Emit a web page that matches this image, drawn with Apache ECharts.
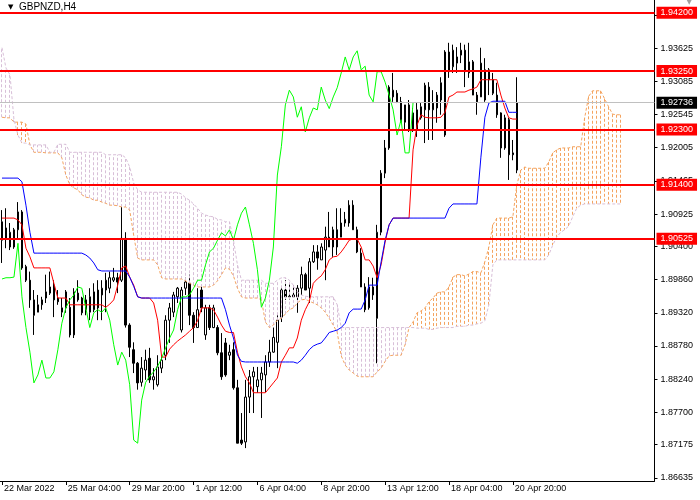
<!DOCTYPE html>
<html><head><meta charset="utf-8">
<script src="https://cdn.jsdelivr.net/npm/echarts@6/dist/echarts.min.js"></script>
<style>html,body{margin:0;padding:0;background:#fff}#c{width:700px;height:500px}</style>
</head><body><div id="c"></div>
<script>
const symbolName = 'GBPNZD,H4';
const tickLabels = ['22 Mar 2022','25 Mar 04:00','29 Mar 20:00','1 Apr 12:00','6 Apr 04:00','8 Apr 20:00','13 Apr 12:00','18 Apr 04:00','20 Apr 20:00'];
const tickStep = 16;
const slotCount = 164;

const open = [
1.9050,1.9070,1.9039,1.9039,1.9067,1.9096,1.9007,1.8985,1.8953,1.8933,
1.8945,1.8956,1.8964,1.8977,1.8956,1.8933,1.8940,1.8941,1.8896,1.8964,
1.8956,1.8937,1.8933,1.8937,1.8969,1.8961,1.8969,1.8972,1.8985,1.8989,
1.8985,1.9053,1.8912,1.8872,1.8850,1.8819,1.8839,1.8858,1.8823,1.8815,
1.8842,1.8863,1.8920,1.8933,1.8958,1.8904,1.8972,1.8980,1.8928,1.8908,
1.8969,1.8896,1.8940,1.8908,1.8908,1.8867,1.8883,1.8863,1.8872,1.8810,
1.8725,1.8722,1.8795,1.8828,1.8812,1.8823,1.8831,1.8852,1.8868,1.8884,
1.8925,1.8969,1.8958,1.8958,1.8958,1.8972,1.8994,1.8972,1.9015,1.9031,
1.9018,1.9034,1.9055,1.9039,1.9067,1.9055,1.9078,1.9078,1.9107,1.9067,
1.9029,1.8974,1.8940,1.8961,1.8923,1.9063,1.9159,1.9200,1.9283,1.9289,
1.9275,1.9270,1.9270,1.9229,1.9229,1.9249,1.9262,1.9299,1.9262,1.9265,
1.9278,1.9221,1.9324,1.9332,1.9338,1.9351,1.9359,1.9322,1.9340,1.9286,
1.9283,1.9327,1.9311,1.9311,1.9286,1.9257,1.9200,1.9246,1.9192,1.9164];
const close = [
1.9080,1.9053,1.9063,1.9067,1.9096,1.9005,1.8985,1.8953,1.8928,1.8945,
1.8953,1.8966,1.8974,1.8953,1.8950,1.8940,1.8966,1.8896,1.8966,1.8953,
1.8932,1.8953,1.8958,1.8966,1.8940,1.8972,1.8985,1.8989,1.8989,1.8982,
1.9053,1.8912,1.8876,1.8850,1.8818,1.8842,1.8855,1.8823,1.8828,1.8844,
1.8855,1.8920,1.8940,1.8961,1.8972,1.8969,1.8982,1.8928,1.8908,1.8937,
1.8940,1.8940,1.8908,1.8940,1.8867,1.8828,1.8831,1.8868,1.8810,1.8720,
1.8720,1.8795,1.8828,1.8836,1.8823,1.8834,1.8852,1.8868,1.8892,1.8920,
1.8969,1.8958,1.8959,1.8961,1.8972,1.8994,1.8969,1.9015,1.9031,1.9021,
1.9039,1.9055,1.9039,1.9067,1.9039,1.9078,1.9084,1.9107,1.9067,1.9031,
1.8974,1.8937,1.8974,1.8974,1.9063,1.9159,1.9200,1.9299,1.9294,1.9275,
1.9242,1.9242,1.9229,1.9257,1.9262,1.9267,1.9302,1.9262,1.9273,1.9286,
1.9306,1.9356,1.9356,1.9359,1.9348,1.9359,1.9324,1.9340,1.9286,1.9275,
1.9338,1.9278,1.9327,1.9289,1.9254,1.9200,1.9249,1.9189,1.9189,1.92736];
const low = [
1.9013,1.9037,1.9034,1.9036,1.9053,1.9002,1.8982,1.8940,1.8896,1.8933,
1.8937,1.8948,1.8961,1.8925,1.8945,1.8925,1.8932,1.8892,1.8891,1.8950,
1.8928,1.8928,1.8920,1.8933,1.8920,1.8920,1.8933,1.8964,1.8982,1.8964,
1.8982,1.8908,1.8860,1.8834,1.8807,1.8812,1.8823,1.8818,1.8807,1.8812,
1.8834,1.8855,1.8883,1.8925,1.8948,1.8900,1.8961,1.8912,1.8883,1.8908,
1.8933,1.8888,1.8904,1.8907,1.8863,1.8823,1.8828,1.8855,1.8807,1.8720,
1.8717,1.8712,1.8769,1.8769,1.8802,1.8761,1.8803,1.8844,1.8867,1.8842,
1.8917,1.8953,1.8953,1.8958,1.8932,1.8961,1.8969,1.8948,1.9013,1.9002,
1.9018,1.8985,1.9039,1.9023,1.9026,1.9055,1.9072,1.9072,1.9067,1.9029,
1.8974,1.8933,1.8937,1.8953,1.8850,1.9058,1.9151,1.9197,1.9275,1.9273,
1.9241,1.9229,1.9226,1.9226,1.9218,1.9246,1.9208,1.9213,1.9213,1.9241,
1.9254,1.9218,1.9314,1.9322,1.9322,1.9338,1.9299,1.9314,1.9286,1.9254,
1.9283,1.9275,1.9286,1.9286,1.9249,1.9184,1.9197,1.9148,1.9180,1.9159];
const high = [
1.9099,1.9102,1.9078,1.9070,1.9112,1.9099,1.9010,1.8999,1.8969,1.8961,
1.8958,1.8994,1.8999,1.8985,1.8969,1.8956,1.8969,1.8956,1.8972,1.8985,
1.8958,1.8961,1.8972,1.8980,1.8985,1.8985,1.8997,1.8999,1.9005,1.8997,
1.9107,1.9063,1.8915,1.8884,1.8852,1.8860,1.8872,1.8875,1.8842,1.8863,
1.8863,1.8928,1.8948,1.8966,1.8974,1.8974,1.8989,1.8994,1.8933,1.8972,
1.8977,1.8945,1.8945,1.8945,1.8912,1.8899,1.8891,1.8880,1.8884,1.8823,
1.8769,1.8823,1.8839,1.8844,1.8844,1.8844,1.8863,1.8888,1.8908,1.8928,
1.8972,1.8985,1.8980,1.8977,1.8977,1.9007,1.8997,1.9021,1.9042,1.9042,
1.9045,1.9072,1.9096,1.9072,1.9102,1.9102,1.9096,1.9115,1.9115,1.9072,
1.9037,1.8980,1.8990,1.8989,1.9075,1.9164,1.9213,1.9302,1.9322,1.9294,
1.9283,1.9270,1.9278,1.9265,1.9273,1.9273,1.9306,1.9307,1.9294,1.9291,
1.9315,1.9359,1.9371,1.9368,1.9364,1.9371,1.9368,1.9371,1.9343,1.9291,
1.9363,1.9346,1.9330,1.9322,1.9306,1.9258,1.9254,1.9249,1.9213,1.9315];

const tenkan = [
1.9086,1.9086,1.9086,1.9086,1.9083,1.9075,1.9037,1.9023,1.9005,1.9005,
1.9005,1.9005,1.9005,1.8980,1.8956,1.8956,1.8956,1.8945,1.8945,1.8945,
1.8945,1.8945,1.8945,1.8945,1.8945,1.8945,1.8941,1.8946,1.8953,1.8977,
1.9005,1.9008,1.8990,1.8977,1.8958,1.8956,1.8956,1.8956,1.8948,1.8920,
1.8860,1.8860,1.8873,1.8880,1.8886,1.8891,1.8896,1.8902,1.8908,1.8919,
1.8940,1.8940,1.8940,1.8937,1.8925,1.8912,1.8902,1.8900,1.8900,1.8868,
1.8844,1.8828,1.8818,1.8802,1.8802,1.8802,1.8802,1.8810,1.8818,1.8826,
1.8852,1.8863,1.8875,1.8875,1.8891,1.8920,1.8937,1.8950,1.8980,1.8987,
1.8992,1.9002,1.9018,1.9023,1.9024,1.9031,1.9040,1.9050,1.9052,1.9052,
1.9039,1.9018,1.9018,1.9008,1.8989,1.9010,1.9047,1.9075,1.9086,1.9086,
1.9086,1.9086,1.9086,1.9197,1.9237,1.9254,1.9250,1.9249,1.9249,1.9249,
1.9250,1.9258,1.9283,1.9286,1.9291,1.9291,1.9291,1.9294,1.9296,1.9299,
1.9311,1.9311,1.9311,1.9311,1.9311,1.9286,1.9265,1.9249,1.9247,1.9247];
const kijun = [
1.9151,1.9151,1.9151,1.9151,1.9151,1.9145,1.9107,1.9063,1.9029,1.9029,
1.9029,1.9029,1.9029,1.9029,1.9029,1.9029,1.9029,1.9029,1.9029,1.9029,
1.9029,1.9026,1.9021,1.9013,1.9002,1.9000,1.9000,1.9000,1.9000,1.9000,
1.9000,1.9000,1.8990,1.8975,1.8958,1.8956,1.8956,1.8956,1.8956,1.8956,
1.8956,1.8956,1.8956,1.8956,1.8956,1.8956,1.8956,1.8956,1.8956,1.8956,
1.8956,1.8956,1.8956,1.8956,1.8956,1.8956,1.8937,1.8912,1.8891,1.8863,
1.8853,1.8852,1.8852,1.8852,1.8852,1.8852,1.8852,1.8852,1.8852,1.8852,
1.8852,1.8852,1.8852,1.8852,1.8850,1.8855,1.8863,1.8872,1.8878,1.8881,
1.8883,1.8891,1.8900,1.8902,1.8904,1.8908,1.8915,1.8932,1.8938,1.8938,
1.8938,1.8953,1.8977,1.8977,1.8977,1.9015,1.9050,1.9075,1.9086,1.9086,
1.9086,1.9086,1.9086,1.9086,1.9086,1.9086,1.9086,1.9086,1.9086,1.9086,
1.9086,1.9086,1.9102,1.9109,1.9109,1.9109,1.9109,1.9109,1.9109,1.9109,
1.9185,1.9250,1.9273,1.9276,1.9276,1.9276,1.9276,1.9258,1.9258,1.9258];
const chikou = [
1.8987,1.8989,1.8989,1.8990,1.9045,1.8958,1.8908,1.8868,1.8818,1.8831,
1.8855,1.8826,1.8826,1.8836,1.8872,1.8915,1.8940,1.8953,1.8961,1.8974,
1.8972,1.8940,1.8908,1.8932,1.8937,1.8933,1.8940,1.8920,1.8880,1.8847,
1.8868,1.8855,1.8815,1.8725,1.8720,1.8790,1.8819,1.8829,1.8836,1.8845,
1.8858,1.8875,1.8891,1.8904,1.8937,1.8958,1.8958,1.8961,1.8972,1.8985,
1.8985,1.9010,1.9031,1.9037,1.9050,1.9062,1.9057,1.9067,1.9050,1.9075,
1.9094,1.9104,1.9075,1.9045,1.9002,1.8941,1.8956,1.8985,1.9039,1.9156,
1.9202,1.9270,1.9294,1.9283,1.9250,1.9267,1.9226,1.9249,1.9265,1.9262,
1.9299,1.9278,1.9264,1.9283,1.9298,1.9322,1.9348,1.9327,1.9348,1.9358,
1.9327,1.9333,1.9286,1.9275,1.9324,1.9324,1.9307,1.9286,1.9262,1.9221,
1.9246,1.9192,1.9192,1.92736];
const spanA = [
1.9250,1.9249,1.9249,1.9242,1.9242,1.9242,1.9239,1.9205,1.9193,1.9193,
1.9193,1.9192,1.9192,1.9192,1.9192,1.9184,1.9156,1.9140,1.9135,1.9132,
1.9124,1.9120,1.9119,1.9115,1.9115,1.9112,1.9110,1.9107,1.9107,1.9106,
1.9104,1.9104,1.9099,1.9058,1.9021,1.9018,1.9018,1.9018,1.9018,1.9010,
1.8989,1.8987,1.8987,1.8987,1.8987,1.8987,1.8984,1.8980,1.8977,1.8974,
1.8974,1.8974,1.8974,1.8977,1.8984,1.8994,1.9005,1.9003,1.8992,1.8972,
1.8958,1.8956,1.8956,1.8956,1.8956,1.8953,1.8917,1.8908,1.8912,1.8920,
1.8923,1.8930,1.8937,1.8940,1.8948,1.8953,1.8954,1.8951,1.8948,1.8945,
1.8940,1.8933,1.8923,1.8912,1.8900,1.8862,1.8847,1.8839,1.8834,1.8829,
1.8828,1.8828,1.8828,1.8828,1.8836,1.8842,1.8853,1.8862,1.8863,1.8863,
1.8863,1.8880,1.8908,1.8917,1.8932,1.8935,1.8940,1.8950,1.8956,1.8964,
1.8966,1.8966,1.8974,1.8990,1.8994,1.8994,1.8992,1.8995,1.8999,1.8999,
1.8997,1.9015,1.9039,1.9075,1.9086,1.9086,1.9086,1.9086,1.9088,1.9140,
1.9164,1.9169,1.9167,1.9167,1.9167,1.9167,1.9167,1.9177,1.9192,1.9197,
1.9200,1.9200,1.9200,1.9202,1.9202,1.9202,1.9249,1.9284,1.9293,1.9293,
1.9293,1.9280,1.9267,1.9255,1.9254,1.9254];
const spanB = [
1.9363,1.9330,1.9319,1.9246,1.9221,1.9208,1.9208,1.9205,1.9205,1.9205,
1.9205,1.9205,1.9193,1.9193,1.9206,1.9206,1.9206,1.9193,1.9193,1.9193,
1.9193,1.9193,1.9193,1.9193,1.9193,1.9193,1.9189,1.9189,1.9189,1.9189,
1.9189,1.9184,1.9169,1.9143,1.9132,1.9128,1.9128,1.9128,1.9128,1.9128,
1.9128,1.9128,1.9128,1.9128,1.9128,1.9125,1.9119,1.9115,1.9109,1.9102,
1.9094,1.9091,1.9089,1.9088,1.9084,1.9083,1.9080,1.9080,1.9050,1.9010,
1.8985,1.8985,1.8985,1.8985,1.8985,1.8985,1.8980,1.8980,1.8980,1.8985,
1.8989,1.8989,1.8985,1.8977,1.8966,1.8961,1.8959,1.8958,1.8958,1.8958,
1.8958,1.8958,1.8958,1.8958,1.8945,1.8908,1.8908,1.8908,1.8908,1.8908,
1.8908,1.8908,1.8908,1.8908,1.8908,1.8908,1.8908,1.8908,1.8908,1.8908,
1.8908,1.8908,1.8908,1.8908,1.8907,1.8907,1.8907,1.8905,1.8905,1.8907,
1.8908,1.8908,1.8908,1.8908,1.8910,1.8910,1.8910,1.8912,1.8912,1.8914,
1.8915,1.8919,1.8945,1.9010,1.9018,1.9018,1.9018,1.9018,1.9018,1.9018,
1.9018,1.9018,1.9018,1.9018,1.9018,1.9018,1.9018,1.9026,1.9042,1.9055,
1.9063,1.9067,1.9073,1.9088,1.9102,1.9107,1.9109,1.9109,1.9109,1.9109,
1.9109,1.9109,1.9109,1.9109,1.9109,1.9109];

const levels = [1.94200, 1.93250, 1.92300, 1.91400, 1.90525];
const currentPrice = 1.92736;
const priceTicks = [1.94165,1.93625,1.93085,1.92545,1.92005,1.91465,1.90925,1.90400,1.89860,1.89320,1.88780,1.88240,1.87700,1.87175,1.86635];
const yMin = 1.86585, yMax = 1.94406;

const FONT = 'Liberation Sans';
const cats = Array.from({length: slotCount}, (_, i) => String(i));
const candleData = open.map((o, i) => [o, close[i], low[i], high[i]]);
const cloudData = spanA.map((a, i) => [i, a, spanB[i]]);
const showTick = (i) => i % tickStep === 0 && (i / tickStep) < tickLabels.length;

const chart = echarts.init(document.getElementById('c'), null, {renderer: 'canvas'});
const lineSeries = (name, data, color, z, dash) => ({
  name, type: 'line', data, symbol: 'none', showSymbol: false, silent: true, z, clip: true,
  lineStyle: {color, width: 1, type: dash || 'solid'}, emphasis: {disabled: true}
});
const boxLabel = (bg) => ({show: true, position: 'end', distance: 2, formatter: p => Number(p.value).toFixed(5),
  color: '#fff', backgroundColor: bg, padding: [1, 4, 1, 4], fontFamily: FONT, fontSize: 9, lineHeight: 10});
chart.setOption({
  animation: false,
  backgroundColor: '#ffffff',
  title: {
    text: '{tri|▼}  ' + symbolName, left: 3, top: -3, z: 10,
    textStyle: {fontFamily: FONT, fontSize: 10, fontWeight: 'normal', color: '#000',
      rich: {tri: {fontSize: 7, color: '#000', fontFamily: 'DejaVu Sans'}}}
  },
  graphic: [{type: 'text', right: 8, top: -1, style: {text: '▼', fill: '#a0a0a0', fontSize: 7, fontFamily: 'DejaVu Sans'}}],
  grid: {left: -1.5, right: 45.5, top: 0, bottom: 19, containLabel: false},
  xAxis: {
    type: 'category', data: cats, boundaryGap: true,
    axisLine: {show: true, lineStyle: {color: '#000', width: 1}},
    axisTick: {show: true, alignWithLabel: true, interval: showTick, length: 4, lineStyle: {color: '#000'}},
    axisLabel: {interval: showTick, formatter: (v, i) => tickLabels[Math.round(i / tickStep)] || '',
      align: 'left', margin: 3, color: '#000', fontFamily: FONT, fontSize: 9, padding: [0, 0, 0, 2]},
    splitLine: {show: false}
  },
  yAxis: {
    type: 'value', position: 'right', min: yMin, max: yMax,
    axisLine: {show: true, lineStyle: {color: '#000', width: 1}},
    axisTick: {show: true, length: 3, customValues: priceTicks, lineStyle: {color: '#000'}},
    axisLabel: {customValues: priceTicks, formatter: v => v.toFixed(5), margin: 6, color: '#000', fontFamily: FONT, fontSize: 9},
    splitLine: {show: false}
  },
  series: [
    {
      name: 'current', type: 'line', data: [], z: 1, silent: true,
      markLine: {silent: true, symbol: ['none', 'none'], animation: false, precision: 5,
        data: [{yAxis: currentPrice, lineStyle: {color: '#C0C0C0', width: 1, type: 'solid'}, label: boxLabel('#000000')}]}
    },
    {
      name: 'price', type: 'candlestick', data: candleData, barWidth: 2, z: 2, silent: true,
      itemStyle: {color: '#ffffff', color0: '#000000', borderColor: '#000000', borderColor0: '#000000', borderWidth: 1}
    },
    {
      name: 'cloud', type: 'custom', data: cloudData, z: 3, silent: true, clip: true,
      encode: {x: 0, y: [1, 2]},
      renderItem: (params, api) => {
        const i = api.value(0), a = api.value(1), b = api.value(2);
        const p1 = api.coord([i, a]), p2 = api.coord([i, b]);
        const x = Math.round(p1[0] - 0.5) + 0.5;
        return {type: 'line', silent: true,
          shape: {x1: x, y1: p1[1], x2: x, y2: p2[1]},
          style: {stroke: a >= b ? '#F4A460' : '#D8BFD8', lineWidth: 1, lineDash: [3, 2]}};
      }
    },
    lineSeries('Senkou Span A', spanA, '#F4A460', 3, [3, 2]),
    lineSeries('Senkou Span B', spanB, '#D8BFD8', 3, [3, 2]),
    lineSeries('Tenkan-sen', tenkan, '#FF0000', 4),
    lineSeries('Kijun-sen', kijun, '#0000FF', 4),
    lineSeries('Chikou Span', chikou, '#00FF00', 4),
    {
      name: 'levels', type: 'line', data: [], z: 6, silent: true,
      markLine: {silent: true, symbol: ['none', 'none'], animation: false, precision: 5,
        data: levels.map(v => ({yAxis: v, lineStyle: {color: '#FF0000', width: 2, type: 'solid'}, label: boxLabel('#FF0000')}))}
    }
  ]
});
</script></body></html>
